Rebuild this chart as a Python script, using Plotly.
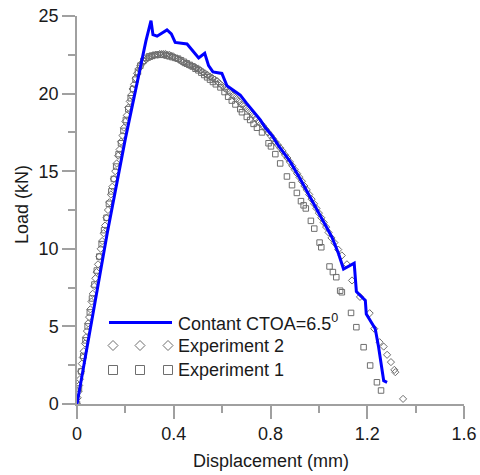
import plotly.graph_objects as go

# ---- Data ----
ctoa_disp = [0.0, 0.125, 0.200, 0.285, 0.306, 0.314, 0.331, 0.372, 0.390, 0.406, 0.455, 0.503,
             0.528, 0.544, 0.562, 0.599, 0.620, 0.647, 0.675, 0.700, 0.758, 0.779, 0.806, 0.833,
             0.882, 0.923, 0.965, 1.013, 1.054, 1.081, 1.102, 1.146, 1.155, 1.192, 1.196, 1.233,
             1.247, 1.268, 1.282]
ctoa_load = [0.0, 11.0, 17.1, 23.4, 24.7, 23.8, 23.7, 24.1, 23.85, 23.3, 23.2, 22.3,
             22.6, 21.8, 21.4, 21.3, 20.5, 20.2, 19.9, 19.4, 18.3, 17.8, 17.3, 16.65,
             15.6, 14.5, 13.3, 11.9, 10.75, 9.7, 8.7, 9.07, 7.25, 6.67, 5.8, 4.85,
             3.66, 1.5, 1.4]

exp2_disp = [0.000, 0.003, 0.006, 0.009, 0.012, 0.016, 0.020, 0.024, 0.028, 0.033, 0.037, 0.041,
             0.046, 0.050, 0.055, 0.060, 0.065, 0.071, 0.076, 0.081, 0.087, 0.092, 0.098, 0.104,
             0.110, 0.116, 0.122, 0.128, 0.134, 0.140, 0.146, 0.152, 0.158, 0.164, 0.170, 0.176,
             0.182, 0.188, 0.194, 0.200, 0.206, 0.212, 0.218, 0.224, 0.230, 0.236, 0.242, 0.248,
             0.255, 0.262, 0.270, 0.278, 0.286, 0.294, 0.302, 0.310, 0.318, 0.326, 0.334, 0.342,
             0.350, 0.358, 0.366, 0.374, 0.382, 0.390, 0.398, 0.406, 0.414, 0.422, 0.430, 0.438,
             0.446, 0.454, 0.462, 0.470, 0.478, 0.486, 0.494, 0.502, 0.510, 0.520, 0.530, 0.540,
             0.550, 0.560, 0.570, 0.580, 0.590, 0.600, 0.610, 0.620, 0.630, 0.640, 0.650, 0.660,
             0.670, 0.680, 0.690, 0.700, 0.710, 0.720, 0.730, 0.740, 0.750, 0.760, 0.770, 0.780,
             0.790, 0.800, 0.810, 0.820, 0.830, 0.840, 0.850, 0.860, 0.870, 0.880, 0.890, 0.900,
             0.910, 0.920, 0.930, 0.940, 0.950, 0.960, 0.970, 0.980, 0.990, 1.000, 1.010, 1.020,
             1.030, 1.040, 1.052, 1.064, 1.080, 1.095, 1.116, 1.137, 1.170, 1.210, 1.229, 1.251,
             1.268, 1.282, 1.298, 1.312, 1.316, 1.348]
exp2_load = [0.0, 0.4, 0.8, 1.2, 1.6, 2.1, 2.6, 3.0, 3.4, 3.9, 4.3, 4.7,
             5.2, 5.6, 6.1, 6.6, 7.1, 7.6, 8.1, 8.5, 9.0, 9.5, 10.0, 10.5,
             11.0, 11.5, 12.0, 12.5, 13.0, 13.5, 14.0, 14.5, 15.0, 15.5, 16.0, 16.4,
             16.9, 17.3, 17.8, 18.2, 18.6, 19.1, 19.5, 19.9, 20.3, 20.6, 21.0, 21.3,
             21.6, 21.8, 22.0, 22.1, 22.2, 22.3, 22.35, 22.4, 22.45, 22.5, 22.5, 22.55,
             22.55, 22.55, 22.55, 22.5, 22.5, 22.45, 22.4, 22.3, 22.25, 22.2, 22.1, 22.0,
             21.95, 21.9, 21.85, 21.8, 21.75, 21.7, 21.65, 21.6, 21.5, 21.4, 21.3, 21.2,
             21.1, 21.0, 20.9, 20.8, 20.65, 20.5, 20.35, 20.25, 20.1, 19.95, 19.8, 19.65,
             19.5, 19.3, 19.2, 19.05, 18.9, 18.75, 18.6, 18.4, 18.2, 18.05, 17.9, 17.7,
             17.5, 17.3, 17.1, 16.9, 16.7, 16.5, 16.3, 16.05, 15.85, 15.6, 15.35, 15.1,
             14.85, 14.6, 14.35, 14.05, 13.8, 13.5, 13.2, 12.9, 12.6, 12.3, 12.0, 11.7,
             11.4, 11.05, 10.7, 10.4, 9.95, 9.57, 9.0, 7.96, 6.9, 5.85, 4.85, 3.98,
             3.7, 3.17, 2.7, 2.2, 2.05, 0.33]

exp1_disp = [0.000, 0.008, 0.017, 0.026, 0.035, 0.044, 0.053, 0.062, 0.072, 0.082, 0.092, 0.102,
             0.112, 0.122, 0.132, 0.142, 0.152, 0.162, 0.172, 0.182, 0.192, 0.202, 0.212, 0.222,
             0.232, 0.242, 0.252, 0.262, 0.274, 0.286, 0.298, 0.310, 0.322, 0.334, 0.346, 0.358,
             0.370, 0.382, 0.394, 0.406, 0.418, 0.430, 0.442, 0.454, 0.466, 0.478, 0.490, 0.502,
             0.514, 0.526, 0.538, 0.550, 0.562, 0.574, 0.593, 0.610, 0.625, 0.640, 0.655, 0.675,
             0.682, 0.702, 0.716, 0.730, 0.744, 0.765, 0.792, 0.802, 0.820, 0.840, 0.868, 0.889,
             0.909, 0.926, 0.937, 0.946, 0.967, 0.981, 1.003, 1.010, 1.044, 1.058, 1.072, 1.088,
             1.095, 1.133, 1.155, 1.185, 1.212, 1.240, 1.257]
exp1_load = [0.0, 1.0, 2.1, 3.1, 4.1, 5.0, 5.9, 6.8, 7.7, 8.6, 9.5, 10.3,
             11.2, 12.0, 12.9, 13.7, 14.5, 15.3, 16.1, 16.8, 17.6, 18.3, 19.0, 19.7,
             20.3, 20.9, 21.4, 21.8, 22.1, 22.3, 22.4, 22.45, 22.5, 22.5, 22.5, 22.5,
             22.45, 22.4, 22.35, 22.3, 22.25, 22.15, 22.05, 21.95, 21.85, 21.75, 21.6, 21.5,
             21.35, 21.2, 21.05, 20.9, 20.75, 20.6, 20.4, 20.1, 19.8, 19.55, 19.3, 19.0,
             18.8, 18.5, 18.3, 18.05, 17.8, 17.5, 16.8, 16.6, 16.1, 15.5, 14.66, 14.1,
             13.6, 13.07, 12.8, 12.6, 11.8, 11.3, 10.4, 10.1, 8.86, 8.5, 8.17, 7.3,
             7.2, 5.87, 4.95, 3.66, 2.48, 1.4, 0.87]

x_tick_vals = [0, 0.4, 0.8, 1.2, 1.6]
x_tick_text = ["0", "0.4", "0.8", "1.2", "1.6"]
y_tick_vals = [0, 5, 10, 15, 20, 25]
y_tick_text = ["0", "5", "10", "15", "20", "25"]

x_title = "Displacement (mm)"
y_title = "Load (kN)"
legend_names = ["Contant CTOA=6.5<sup>0</sup>", "Experiment 2", "Experiment 1"]

# ---- Styles ----
BLUE = "#0000FF"
GREY = "#6e6e6e"
AXIS = "#a0a0a0"
TXT = "#1a1a1a"
FONT = "Liberation Sans, Arial, sans-serif"

fig = go.Figure()
fig.add_trace(go.Scatter(x=exp2_disp, y=exp2_load, mode="markers", showlegend=False,
                         marker=dict(symbol="diamond-open", size=5.5, color=GREY,
                                     line=dict(width=1, color=GREY))))
fig.add_trace(go.Scatter(x=exp1_disp, y=exp1_load, mode="markers", showlegend=False,
                         marker=dict(symbol="square-open", size=5.5, color=GREY,
                                     line=dict(width=1, color=GREY))))
fig.add_trace(go.Scatter(x=ctoa_disp, y=ctoa_load, mode="lines", showlegend=False,
                         line=dict(color=BLUE, width=3)))

# ---- Manual legend (paper coordinates, pixel-sized symbols) ----
L, R, T, B = 77, 16, 16, 71
W, H = 480, 475
pw, ph = W - L - R, H - T - B

def px_x(p):
    return (p - L) / pw

def px_y(p):
    return (H - B - p) / ph

shapes = []
shapes.append(dict(type="line", xref="paper", yref="paper",
                   x0=px_x(109), x1=px_x(172), y0=px_y(322.5), y1=px_y(322.5),
                   line=dict(color=BLUE, width=3)))
for cx in (113, 140, 168):
    shapes.append(dict(type="path", xref="paper", yref="paper",
                       xsizemode="pixel", ysizemode="pixel",
                       xanchor=px_x(cx), yanchor=px_y(345.5),
                       path="M -5 0 L 0 5 L 5 0 L 0 -5 Z",
                       line=dict(color=GREY, width=1)))
    shapes.append(dict(type="rect", xref="paper", yref="paper",
                       xsizemode="pixel", ysizemode="pixel",
                       xanchor=px_x(cx), yanchor=px_y(370),
                       x0=-4.5, x1=4.5, y0=-4.5, y1=4.5,
                       line=dict(color=GREY, width=1)))

annotations = []
for name, ypx in zip(legend_names, (322.5, 345.5, 370)):
    annotations.append(dict(text=name, xref="paper", yref="paper",
                            x=px_x(176), y=px_y(ypx), xanchor="left", yanchor="middle",
                            showarrow=False, font=dict(size=18, color=TXT, family=FONT)))
# axis titles
annotations.append(dict(text=x_title, xref="paper", yref="paper", x=0.5, y=px_y(461),
                        xanchor="center", yanchor="middle", showarrow=False,
                        font=dict(size=18, color=TXT, family=FONT)))
annotations.append(dict(text=y_title, xref="paper", yref="paper", x=px_x(22), y=px_y(205),
                        xanchor="center", yanchor="middle", textangle=-90, showarrow=False,
                        font=dict(size=18, color=TXT, family=FONT)))

fig.update_layout(
    width=W, height=H,
    margin=dict(l=L, r=R, t=T, b=B, autoexpand=False),
    paper_bgcolor="white", plot_bgcolor="white",
    font=dict(family=FONT, size=18, color=TXT),
    shapes=shapes, annotations=annotations,
    showlegend=False,
)
fig.update_xaxes(range=[0, 1.6], tickvals=x_tick_vals, ticktext=x_tick_text, automargin=False,
                 showgrid=False, zeroline=False, showline=True, linecolor=AXIS, linewidth=1.5,
                 ticks="outside", ticklen=13, tickcolor=AXIS, tickwidth=1.5,
                 minor=dict(dtick=0.2, tick0=0, ticks="outside", ticklen=7, tickcolor=AXIS, tickwidth=1.5),
                 tickfont=dict(size=18, color=TXT))
fig.update_yaxes(range=[0, 25], tickvals=y_tick_vals, ticktext=y_tick_text, automargin=False,
                 showgrid=False, zeroline=False, showline=True, linecolor=AXIS, linewidth=1.5,
                 ticks="outside", ticklen=13, tickcolor=AXIS, tickwidth=1.5,
                 minor=dict(dtick=2.5, tick0=0, ticks="outside", ticklen=7, tickcolor=AXIS, tickwidth=1.5),
                 tickfont=dict(size=18, color=TXT))

fig.write_html("out.html", config={"displayModeBar": False},
               post_script="document.body.style.margin='0';document.body.style.overflow='hidden';")
